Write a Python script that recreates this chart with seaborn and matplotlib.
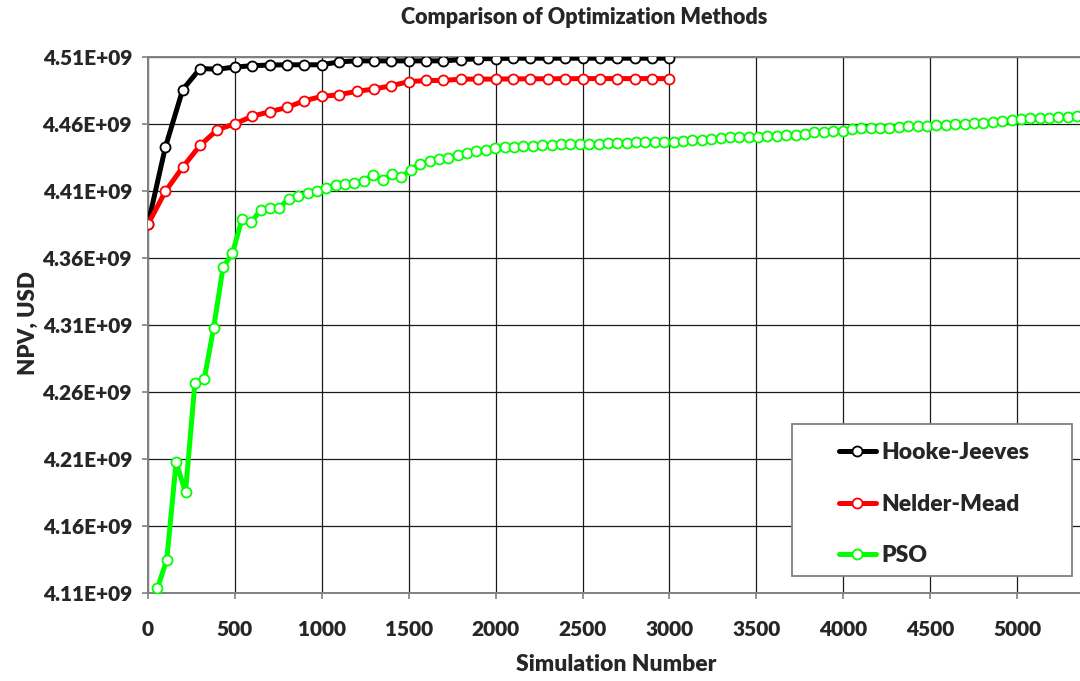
import numpy as np
import pandas as pd
import matplotlib
matplotlib.use("Agg")
import matplotlib.pyplot as plt
import seaborn as sns
from matplotlib.ticker import FuncFormatter
from matplotlib.patches import Rectangle
from matplotlib.lines import Line2D

# ---------------- data ----------------
series_names = ["Hooke-Jeeves", "Nelder-Mead", "PSO"]

hj_sim = list(range(0, 3100, 100))
hj_npv_bn = [4.385, 4.4425, 4.4855, 4.5012, 4.5007, 4.5023, 4.5033, 4.5038, 4.5040, 4.5040,
             4.5040, 4.5062, 4.5069, 4.5069, 4.5069, 4.5069, 4.5069, 4.5069, 4.5078, 4.5085,
             4.5086, 4.5089, 4.5089, 4.5089, 4.5089, 4.5089, 4.5089, 4.5089, 4.5089, 4.5089,
             4.5089]

nm_sim = list(range(0, 3100, 100))
nm_npv_bn = [4.385, 4.4096, 4.4277, 4.4439, 4.4557, 4.4600, 4.4656, 4.4690, 4.4722, 4.4772,
             4.4804, 4.4817, 4.4842, 4.4859, 4.4884, 4.4914, 4.4923, 4.4923, 4.4933, 4.4933,
             4.4933, 4.4935, 4.4935, 4.4936, 4.4936, 4.4937, 4.4937, 4.4937, 4.4937, 4.4937,
             4.4937]

pso_sim = list(np.arange(1, 100) * 54)
pso_npv_bn = [4.1137, 4.1348, 4.2078, 4.1853, 4.2667, 4.2699, 4.3079, 4.3531, 4.3634, 4.3887,
              4.3867, 4.3956, 4.3976, 4.3976, 4.4040, 4.4065, 4.4082, 4.4097, 4.4118, 4.4144,
              4.4151, 4.4158, 4.4176, 4.4221, 4.4179, 4.4229, 4.4201, 4.4259, 4.4301, 4.4323,
              4.4340, 4.4343, 4.4370, 4.4383, 4.4395, 4.4408, 4.4419, 4.4427, 4.4427, 4.4432,
              4.4437, 4.4442, 4.4444, 4.4447, 4.4450, 4.4450, 4.4452, 4.4452, 4.4457, 4.4457,
              4.4459, 4.4461, 4.4464, 4.4466, 4.4468, 4.4468, 4.4471, 4.4479, 4.4481, 4.4483,
              4.4494, 4.4498, 4.4500, 4.4505, 4.4505, 4.4510, 4.4510, 4.4515, 4.4517, 4.4526,
              4.4538, 4.4542, 4.4547, 4.4550, 4.4560, 4.4565, 4.4570, 4.4572, 4.4572, 4.4577,
              4.4580, 4.4580, 4.4585, 4.4590, 4.4592, 4.4597, 4.4601, 4.4604, 4.4609, 4.4614,
              4.4619, 4.4629, 4.4637, 4.4642, 4.4644, 4.4646, 4.4652, 4.4654, 4.4661]

y_ticks_bn = [4.11, 4.16, 4.21, 4.26, 4.31, 4.36, 4.41, 4.46, 4.51]
x_ticks = [0, 500, 1000, 1500, 2000, 2500, 3000, 3500, 4000, 4500, 5000]

colors = {"Hooke-Jeeves": "#000000", "Nelder-Mead": "#FF0000", "PSO": "#00FF00"}

# ---------------- style ----------------
sns.set_theme(style="white")
plt.rcParams["font.family"] = ["Lato", "DejaVu Sans"]
W = "heavy"
plt.rcParams["font.weight"] = W

fig = plt.figure(figsize=(10.8, 6.81), dpi=100)
ax = fig.add_axes([0.137, 0.1288, 0.863, 0.7879])

data = [
    ("Hooke-Jeeves", hj_sim, hj_npv_bn),
    ("Nelder-Mead", nm_sim, nm_npv_bn),
    ("PSO", pso_sim, pso_npv_bn),
]
for name, xs, ys in data:
    df = pd.DataFrame({"sim": xs, "npv": np.array(ys) * 1e9})
    sns.lineplot(data=df, x="sim", y="npv", ax=ax, color=colors[name], lw=3.6,
                 marker="o", markersize=7.2, markerfacecolor="white",
                 markeredgecolor=colors[name], markeredgewidth=1.3,
                 legend=False, zorder=3)

ax.set_xlim(0, 5362)
ax.set_ylim(4.11e9, 4.51e9)
ax.set_xticks(x_ticks)
ax.set_yticks(np.array(y_ticks_bn) * 1e9)
ax.yaxis.set_major_formatter(FuncFormatter(lambda v, p: f"{v:.2E}"))
ax.grid(True, color="#1a1a1a", lw=0.9)
ax.set_axisbelow(True)

for s in ["top", "left", "bottom"]:
    ax.spines[s].set_color("#808080")
    ax.spines[s].set_linewidth(1.4)
ax.spines["right"].set_visible(False)

ax.tick_params(axis="both", which="major", direction="out", length=4.5, width=1.2,
               color="#808080", labelsize=15, left=True, bottom=True)
ax.tick_params(axis="y", pad=7.0)
ax.tick_params(axis="x", pad=14.5)
for lab in ax.get_xticklabels() + ax.get_yticklabels():
    lab.set_fontweight(W)
ax.set_xlabel("")
ax.set_ylabel("")

fig.text(0.541, 0.975, "Comparison of Optimization Methods", ha="center", va="center",
         fontsize=15.5, fontweight=W)
fig.text(0.571, 0.0235, "Simulation Number", ha="center", va="center",
         fontsize=16.5, fontweight=W)
fig.text(0.026, 0.526, "NPV, USD", ha="center", va="center", rotation=90,
         fontsize=16, fontweight=W)

# legend box
rect = Rectangle((792 / 1080, 1 - 576 / 681), 280 / 1080, 152 / 681,
                 transform=fig.transFigure, facecolor="white", edgecolor="#808080",
                 lw=1.3, zorder=4)
ax.add_patch(rect)
rect.set_clip_on(False)

handles = [Line2D([], [], color=colors[n], lw=3.6, marker="o", markersize=7.2,
                  markerfacecolor="white", markeredgecolor=colors[n], markeredgewidth=1.3)
           for n in series_names]
leg = ax.legend(handles, series_names, loc="upper left",
                bbox_to_anchor=(839 / 1080, 1 - 442 / 681), bbox_transform=fig.transFigure,
                frameon=False, prop={"size": 16.5, "weight": W},
                handlelength=1.6, handletextpad=0.25, labelspacing=1.34,
                borderpad=0, borderaxespad=0, numpoints=1)
leg.set_zorder(5)

fig.savefig("out.png", dpi=100)
